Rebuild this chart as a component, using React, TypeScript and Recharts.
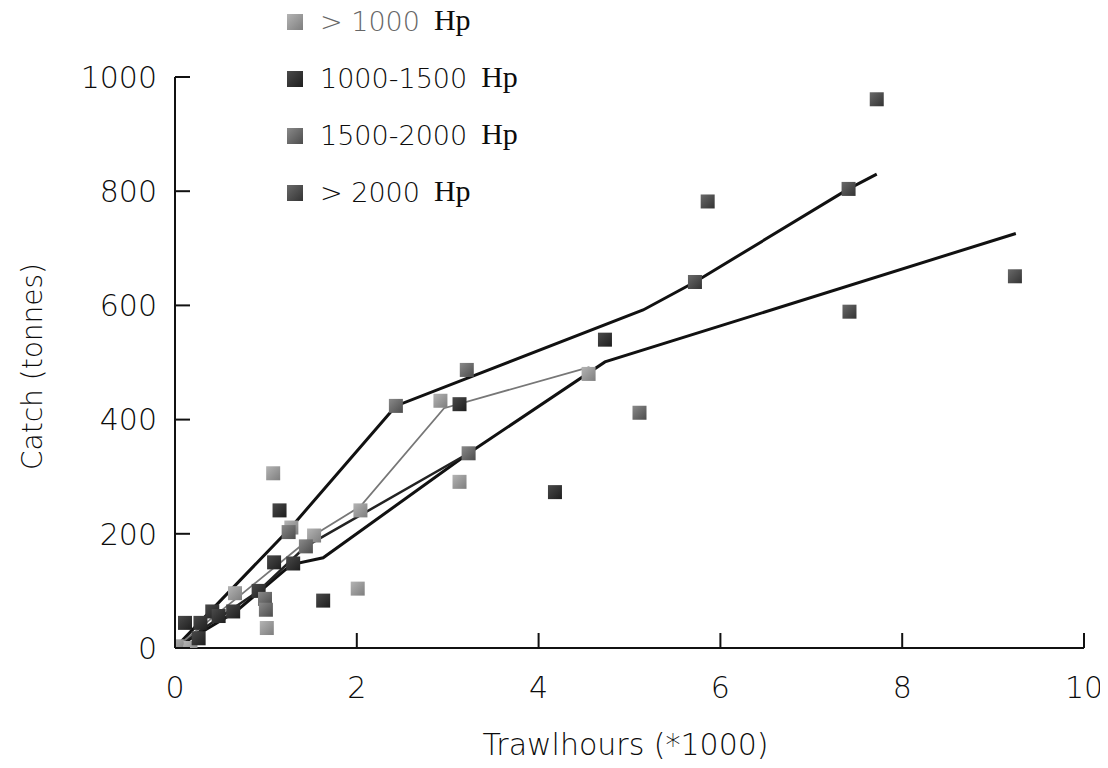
import React from 'react';
import { ScatterChart, Scatter, XAxis, YAxis, Label } from 'recharts';

// axis ticks
const xTicks = [0, 2, 4, 6, 8, 10];
const yTicks = [0, 200, 400, 600, 800, 1000];

// legend labels (engine power classes)
const seriesNames = ['> 1000', '1000-1500', '1500-2000', '> 2000'];

// observed catches: [trawlhours *1000, tonnes]
const catchUnder1000: [number, number][] = [
  [0.02, 3], [0.17, 0], [0.66, 96], [1.01, 35], [1.08, 306], [1.28, 211],
  [1.53, 197], [2.01, 104], [2.04, 241], [2.92, 433], [3.13, 291], [4.55, 480],
];
const catch1000to1500: [number, number][] = [
  [0.11, 44], [0.28, 44], [0.26, 17], [0.41, 64], [0.48, 56], [0.64, 64],
  [0.92, 100], [1.15, 241], [1.09, 150], [1.3, 148], [1.63, 83], [3.13, 427],
  [4.18, 273], [4.73, 540],
];
const catch1500to2000: [number, number][] = [
  [0.99, 86], [1.0, 67], [1.25, 203], [1.44, 178], [2.43, 424], [3.21, 487],
  [3.23, 341], [5.11, 412],
];
const catchOver2000: [number, number][] = [
  [5.72, 641], [5.86, 782], [7.41, 804], [7.42, 589], [7.72, 961], [9.24, 651],
];

// fitted lines
const lineUpper: [number, number][] = [
  [0, 0], [1.28, 212], [2.43, 424], [5.15, 592], [5.72, 641], [7.41, 804], [7.72, 830],
];
const lineGrey: [number, number][] = [
  [0, 0], [0.7, 90], [1.53, 198], [2.04, 248], [2.96, 420], [4.56, 492],
];
const lineLower: [number, number][] = [
  [0, 0], [0.67, 64], [1.28, 146], [1.63, 158], [3.23, 341], [4.73, 501], [9.25, 726],
];
const lineMid: [number, number][] = [
  [0, 0], [0.92, 100], [1.44, 178], [3.23, 341],
];

const toPts = (arr: [number, number][]) => arr.map(([x, y]) => ({ x, y }));

const FONT = '"DejaVu Sans", sans-serif';
const INK = '#0c0c0c';
const Y_GAP = 18;
const X_GAP = 28;
const TICK_LEN = 15;

const squareStyles = [
  { id: 'sqLight', top: '#b4b4b4', bottom: '#7e7e7e' },
  { id: 'sqDark', top: '#4a4a4a', bottom: '#1e1e1e' },
  { id: 'sqMid', top: '#8a8a8a', bottom: '#4c4c4c' },
  { id: 'sqDeep', top: '#6a6a6a', bottom: '#333333' },
];

const makeSquare = (grad: string) => (props: any) => {
  const { cx, cy } = props;
  if (cx == null || cy == null) return <g />;
  return <rect x={cx - 7} y={cy - 7} width={14} height={14} fill={`url(#${grad})`} />;
};

const NoDot = () => <g />;

const YTick = ({ x, y, payload }: any) => (
  <g>
    <line x1={x + Y_GAP} x2={x + Y_GAP + TICK_LEN} y1={y} y2={y} stroke="#111" strokeWidth={2} />
    <text x={x} y={y} dy="0.36em" textAnchor="end" fontFamily={FONT} fontWeight={200} fontSize={30} fill={INK}>
      {payload.value}
    </text>
  </g>
);

const XTick = ({ x, y, payload }: any) => (
  <g>
    <line x1={x} x2={x} y1={y - X_GAP} y2={y - X_GAP - TICK_LEN} stroke="#111" strokeWidth={2} />
    <text x={x} y={y} dy="0.73em" textAnchor="middle" fontFamily={FONT} fontWeight={200} fontSize={30} fill={INK}>
      {payload.value}
    </text>
  </g>
);

const XTitle = ({ viewBox }: any) => (
  <text x={viewBox.x + viewBox.width / 2 - 4} y={viewBox.y + 107} textAnchor="middle"
    fontFamily={FONT} fontWeight={200} fontSize={30} fill={INK}>
    Trawlhours (*1000)
  </text>
);

const YTitle = ({ viewBox }: any) => {
  const cx = viewBox.x + 42;
  const cy = viewBox.y + viewBox.height / 2 + 4;
  return (
    <text x={cx} y={cy} transform={`rotate(-90 ${cx} ${cy})`} textAnchor="middle"
      fontFamily={FONT} fontWeight={200} fontSize={28} fill={INK}>
      Catch (tonnes)
    </text>
  );
};

function HpLegend() {
  return (
    <div style={{ position: 'absolute', left: 287, top: -7, display: 'flex', flexDirection: 'column' }}>
      {seriesNames.map((name, i) => (
        <div key={name} style={{ height: 57, display: 'flex', alignItems: 'center' }}>
          <span style={{
            width: 16, height: 16, marginRight: 17,
            background: `linear-gradient(135deg, ${squareStyles[i].top}, ${squareStyles[i].bottom})`,
          }} />
          <span style={{ fontFamily: FONT, fontWeight: 200, fontSize: 27, color: i === 0 ? '#666' : INK }}>{name}</span>
          <span style={{ fontFamily: '"Liberation Serif", serif', fontSize: 30, marginLeft: 14, color: INK, position: 'relative', top: -2 }}>Hp</span>
        </div>
      ))}
    </div>
  );
}

export default function App() {
  const pointSets = [catchUnder1000, catch1000to1500, catch1500to2000, catchOver2000];
  return (
    <div style={{ position: 'relative', width: 1108, height: 768, margin: -8 }}>
      <ScatterChart width={1108} height={768} margin={{ top: 77, right: 24, bottom: 10, left: 0 }}>
        <defs>
          {squareStyles.map(s => (
            <linearGradient key={s.id} id={s.id} x1="0" y1="0" x2="1" y2="1">
              <stop offset="0%" stopColor={s.top} />
              <stop offset="100%" stopColor={s.bottom} />
            </linearGradient>
          ))}
        </defs>
        <XAxis type="number" dataKey="x" domain={[0, 10]} ticks={xTicks} height={110}
          axisLine={{ stroke: '#111', strokeWidth: 2 }} tickLine={false} tickSize={0} tickMargin={X_GAP}
          tick={<XTick />} allowDataOverflow>
          <Label content={<XTitle />} />
        </XAxis>
        <YAxis type="number" dataKey="y" domain={[0, 1000]} ticks={yTicks} width={175}
          axisLine={{ stroke: '#111', strokeWidth: 2 }} tickLine={false} tickSize={0} tickMargin={Y_GAP}
          tick={<YTick />} allowDataOverflow>
          <Label content={<YTitle />} />
        </YAxis>
        <Scatter data={toPts(lineUpper)} line={{ stroke: '#111', strokeWidth: 3 }} shape={NoDot}
          isAnimationActive={false} legendType="none" />
        <Scatter data={toPts(lineLower)} line={{ stroke: '#111', strokeWidth: 3 }} shape={NoDot}
          isAnimationActive={false} legendType="none" />
        <Scatter data={toPts(lineMid)} line={{ stroke: '#222', strokeWidth: 2.5 }} shape={NoDot}
          isAnimationActive={false} legendType="none" />
        <Scatter data={toPts(lineGrey)} line={{ stroke: '#777', strokeWidth: 1.8 }} shape={NoDot}
          isAnimationActive={false} legendType="none" />
        {pointSets.map((set, i) => (
          <Scatter key={seriesNames[i]} name={seriesNames[i]} data={toPts(set)}
            shape={makeSquare(squareStyles[i].id)} isAnimationActive={false} />
        ))}
      </ScatterChart>
      <HpLegend />
    </div>
  );
}
